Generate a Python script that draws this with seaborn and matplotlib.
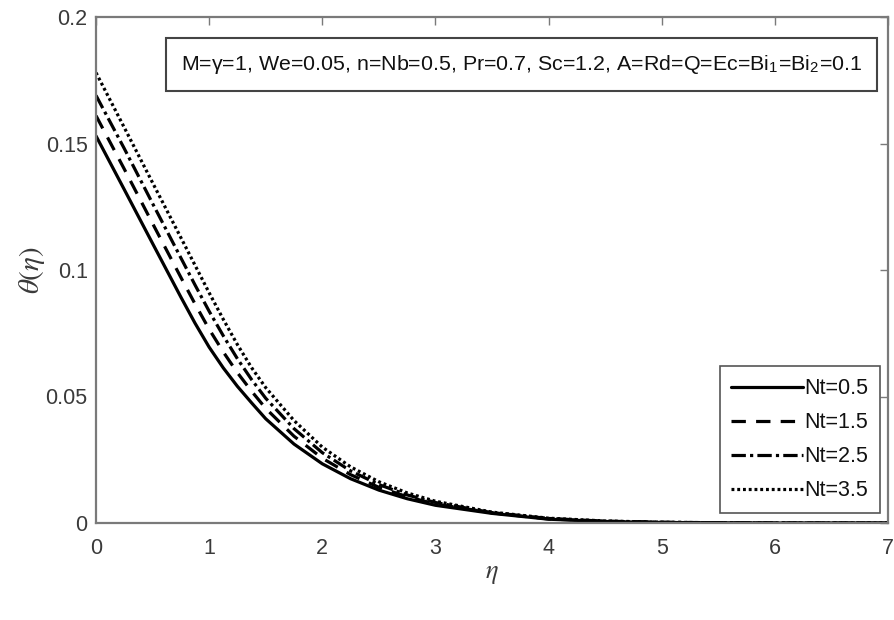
import numpy as np
import pandas as pd
import matplotlib
matplotlib.use("Agg")
import matplotlib.pyplot as plt
import seaborn as sns

# Temperature profiles theta(eta) for several thermophoresis parameters Nt
eta = [0.0, 0.25, 0.5, 0.75, 0.875, 1.0, 1.125, 1.25, 1.375, 1.5, 1.75, 2.0,
       2.25, 2.5, 2.75, 3.0, 3.5, 4.0, 4.5, 5.0, 5.5, 6.0, 7.0]
theta_nt05 = [0.153, 0.1318, 0.1105, 0.0893, 0.0790, 0.0695, 0.0613, 0.0540, 0.0475,
              0.0412, 0.0312, 0.0234, 0.0175, 0.0130, 0.0096, 0.0070, 0.0038, 0.0015,
              0.0006, 0.0002, 0.0001, 0.0, 0.0]
theta_nt15 = [0.161, 0.1399, 0.1184, 0.0971, 0.0866, 0.0766, 0.0676, 0.0594, 0.0521,
              0.0453, 0.0343, 0.0256, 0.0191, 0.0141, 0.0104, 0.0075, 0.0040, 0.0016,
              0.0007, 0.0002, 0.0001, 0.0, 0.0]
theta_nt25 = [0.169, 0.1480, 0.1263, 0.1048, 0.0941, 0.0837, 0.0740, 0.0649, 0.0567,
              0.0493, 0.0373, 0.0278, 0.0206, 0.0152, 0.0111, 0.0081, 0.0041, 0.0018,
              0.0007, 0.0003, 0.0001, 0.0, 0.0]
theta_nt35 = [0.178, 0.1563, 0.1345, 0.1128, 0.1019, 0.0910, 0.0805, 0.0705, 0.0614,
              0.0535, 0.0405, 0.0300, 0.0222, 0.0163, 0.0119, 0.0086, 0.0043, 0.0019,
              0.0008, 0.0003, 0.0001, 0.0, 0.0]
nt_values = ["0.5", "1.5", "2.5", "3.5"]
x_ticks = [0, 1, 2, 3, 4, 5, 6, 7]
y_ticks = [0, 0.05, 0.1, 0.15, 0.2]
y_tick_labels = ["0", "0.05", "0.1", "0.15", "0.2"]

frames = []
for nt, th in zip(nt_values, [theta_nt05, theta_nt15, theta_nt25, theta_nt35]):
    frames.append(pd.DataFrame({"eta": eta, "theta": th, "Nt": "Nt=" + nt}))
df = pd.concat(frames, ignore_index=True)

sns.set_theme(style="white")
plt.rcParams["font.family"] = ["Liberation Sans", "DejaVu Sans"]
plt.rcParams["mathtext.fontset"] = "stix"

gray = "#7a7a7a"
textc = "#3a3a3a"

fig = plt.figure(figsize=(8.95, 6.2), dpi=100)
ax = fig.add_axes([96 / 895, 97 / 620, 792 / 895, 506 / 620])

styles = {"Nt=0.5": "", "Nt=1.5": (4.5, 3.2), "Nt=2.5": (4.5, 1.3, 1.0, 1.3),
          "Nt=3.5": (0.9, 0.9)}
sns.lineplot(data=df, x="eta", y="theta", style="Nt", dashes=styles,
             color="black", linewidth=2.3, estimator=None, sort=False, ax=ax)

ax.set_xlim(0, 7)
ax.set_ylim(0, 0.2)
ax.set_xticks(x_ticks)
ax.set_xticklabels([str(t) for t in x_ticks])
ax.set_yticks(y_ticks)
ax.set_yticklabels(y_tick_labels)
ax.tick_params(direction="in", length=6, width=1.0, color=gray, labelcolor=textc,
               labelsize=15.5, top=True, right=True)
ax.tick_params(axis="x", pad=11)
ax.tick_params(axis="y", pad=6)
for s in ax.spines.values():
    s.set_color(gray)
    s.set_linewidth(1.6)

ax.set_xlabel(r"$\eta$", fontsize=19, color=textc, labelpad=2)
ax.set_ylabel(r"$\theta(\eta)$", fontsize=21, color=textc, labelpad=-1)

handles, labels = ax.get_legend_handles_labels()
leg = ax.legend(handles, labels, loc="lower right", bbox_to_anchor=(0.99, 0.02),
                borderaxespad=0, fontsize=15.5, handlelength=3.3, handletextpad=0.08,
                labelspacing=0.6, frameon=True, fancybox=False, framealpha=1,
                edgecolor="#555555", borderpad=0.55)
leg.get_frame().set_linewidth(1.2)
for t in leg.get_texts():
    t.set_color("#111111")

ax.text(0.537, 0.906,
        r"M=γ=1, We=0.05, n=Nb=0.5, Pr=0.7, Sc=1.2, A=Rd=Q=Ec=Bi$_\mathregular{1}$=Bi$_\mathregular{2}$=0.1",
        transform=ax.transAxes, ha="center", va="center", fontsize=15.4, color="#111111",
        bbox=dict(boxstyle="square,pad=0.7", facecolor="white", edgecolor="#444444",
                  linewidth=1.5))

fig.savefig("out.png", dpi=100)
